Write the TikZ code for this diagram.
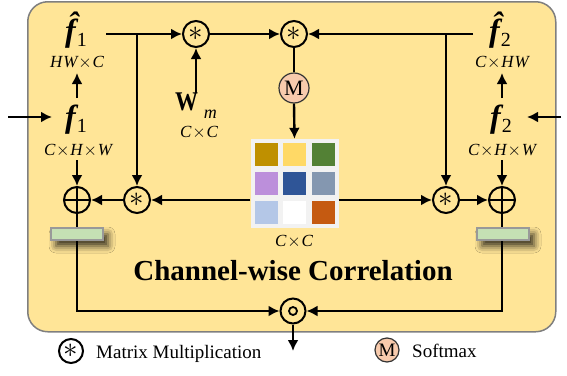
\documentclass[tikz,border=0pt]{standalone}
\usepackage{graphicx}
\usepackage{fontspec}
\setmainfont{Liberation Serif}
\usetikzlibrary{arrows.meta,shadows.blur}
\definecolor{boxfill}{HTML}{FFE597}
\definecolor{boxline}{HTML}{7F7F7F}
\definecolor{smfill}{HTML}{F8CBAD}
\definecolor{barfill}{HTML}{C5E0B4}
\definecolor{matbg}{HTML}{F2F2F2}
\definecolor{cA}{HTML}{BF9000}
\definecolor{cB}{HTML}{FFD966}
\definecolor{cC}{HTML}{538135}
\definecolor{cD}{HTML}{BC8FDB}
\definecolor{cE}{HTML}{2F5597}
\definecolor{cF}{HTML}{8497B0}
\definecolor{cG}{HTML}{B4C7E7}
\definecolor{cH}{HTML}{FFFFFF}
\definecolor{cI}{HTML}{C55A11}
\newcommand\bigf{{\fontsize{32}{32}\selectfont\bfseries\itshape f}}
\newcommand\bigfh{{\fontsize{32}{32}\selectfont\bfseries\itshape \^{f}}}
\newcommand\fsubs[1]{\raisebox{-5pt}{\kern1pt\fontsize{20}{20}\selectfont #1}}
\newcommand\tms{\kern0.8pt$\times$\kern0.8pt}
\newcommand\astsym{\scalebox{2.9}{$\ast$}}
\begin{document}
\begin{tikzpicture}[x=1pt,y=-1pt,
  conn/.style={line width=2.4pt,-{Latex[length=11pt,width=11pt]}},
  plainline/.style={line width=2.4pt},
  opnode/.style={circle,draw,line width=2pt,minimum size=26pt,inner sep=0pt,fill=boxfill},
  plusnode/.style={opnode,path picture={\draw[line width=2pt] (path picture bounding box.north) -- (path picture bounding box.south) (path picture bounding box.west) -- (path picture bounding box.east);}},
  smnode/.style={circle,draw=black!80,line width=1.2pt,fill=smfill,inner sep=0pt,minimum size=30pt,font=\fontsize{22}{22}\selectfont},
  dimlabel/.style={font=\fontsize{17}{17}\selectfont\itshape,inner sep=0pt,anchor=base},
  feat/.style={inner sep=0pt,anchor=base},
  cell/.style={minimum size=23pt,inner sep=0pt},
  barnode/.style={draw=black!40,line width=1.5pt,fill=barfill,minimum width=52pt,minimum height=12pt,inner sep=0pt,
     blur shadow={shadow xshift=5pt,shadow yshift=-6pt,shadow blur radius=7pt,shadow opacity=80}},
  legendtext/.style={font=\fontsize{19}{19}\selectfont,anchor=base west,inner sep=0pt}]
\useasboundingbox (0,0) rectangle (567,375);
% main box
\node[draw=boxline,line width=1.5pt,fill=boxfill,rounded corners=20pt,minimum width=528pt,minimum height=330pt,anchor=north west,inner sep=0pt] (box) at (27,1) {};

% features
\node[feat] (fh1) at (76,41) {\bigfh\fsubs{1}};
\node[dimlabel] (fh1d) at (77,67) {H\kern1pt W\tms C};
\node[feat] (f1) at (76,127) {\bigf\fsubs{1}};
\node[dimlabel] (f1d) at (78,155) {C\tms H\tms W};
\node[feat] (fh2) at (500,41) {\bigfh\fsubs{2}};
\node[dimlabel] (fh2d) at (502,67) {C\tms H\kern1pt W};
\node[feat] (f2) at (501,127) {\bigf\fsubs{2}};
\node[dimlabel] (f2d) at (502,155) {C\tms H\tms W};
\node[feat] (wm) at (196,110) {\scalebox{0.85}[1]{\fontsize{27}{27}\selectfont\bfseries W}\raisebox{-8pt}{\kern6pt\fontsize{18}{18}\selectfont\itshape m}};
\node[dimlabel] (wmd) at (199,137) {C\tms C};

% operators
\node[opnode] (opA) at (196,34) {\astsym};
\node[opnode] (opB) at (294,34) {\astsym};
\node[smnode] (sm) at (294,88) {M};
\node[opnode] (opC) at (137,200) {\astsym};
\node[opnode] (opD) at (446,200) {\astsym};
\node[plusnode] (plusL) at (77,200) {};
\node[plusnode] (plusR) at (502,200) {};
\node[opnode,minimum size=25pt] (had) at (293,311) {};
\node[circle,draw,line width=1.8pt,minimum size=8pt,inner sep=0pt] (hadc) at (had) {};

% correlation matrix
\node[fill=matbg,minimum width=88pt,minimum height=89pt,inner sep=0pt] (mat) at (294.5,183.5) {};
\node[cell,fill=cA] (m11) at (266.5,154.5) {};
\node[cell,fill=cB] (m12) at (294.5,154.5) {};
\node[cell,fill=cC] (m13) at (323,154.5) {};
\node[cell,fill=cD] (m21) at (266.5,183.5) {};
\node[cell,fill=cE] (m22) at (294.5,183.5) {};
\node[cell,fill=cF] (m23) at (323,183.5) {};
\node[cell,fill=cG] (m31) at (266.5,212.5) {};
\node[cell,fill=cH] (m32) at (294.5,212.5) {};
\node[cell,fill=cI] (m33) at (323,212.5) {};
\node[dimlabel] (matd) at (294,246) {C\tms C};

\node[font=\fontsize{29}{29}\selectfont\bfseries,anchor=base,inner sep=0pt] (title) at (293,280) {Channel-wise Correlation};

% coordinates
\coordinate (inL) at (8,117);
\coordinate (inLe) at (52,117);
\coordinate (inR) at (561,117);
\coordinate (inRe) at (527,117);
\coordinate (f1up) at (77,98);
\coordinate (f1upe) at (77,73);
\coordinate (f2up) at (502,98);
\coordinate (f2upe) at (502,73);
\coordinate (f1dn) at (77,160);
\coordinate (f2dn) at (502,160);
\coordinate (fh1r) at (106,34);
\coordinate (fh2l) at (473,34);
\coordinate (wmt) at (196,93);
\coordinate (cornL) at (77,311);
\coordinate (cornR) at (502,311);
\coordinate (out) at (293,351);

% connectors
\draw[conn] (inL) -- (inLe);
\draw[conn] (inR) -- (inRe);
\draw[conn] (f1up) -- (f1upe);
\draw[conn] (f2up) -- (f2upe);
\draw[conn] (f1dn) -- (plusL.north);
\draw[conn] (f2dn) -- (plusR.north);
\draw[conn] (fh1r) -- (opA.west);
\draw[conn] (opC |- fh1r) -- (opC.north);
\draw[conn] (wmt) -- (opA.south);
\draw[conn] (opA.east) -- (opB.west);
\draw[conn] (fh2l) -- (opB.east);
\draw[conn] (opD |- fh2l) -- (opD.north);
\draw[plainline] (opB.south) -- (sm.north);
\draw[conn] (sm.south) -- (mat.north);
\draw[conn] (mat.west |- opC) -- (opC.east);
\draw[conn] (opC.west) -- (plusL.east);
\draw[conn] (mat.east |- opD) -- (opD.west);
\draw[conn] (opD.east) -- (plusR.west);
\draw[conn] (plusL.south) -- (cornL) -- (had.west);
\draw[conn] (plusR.south) -- (cornR) -- (had.east);
\draw[conn] (had.south) -- (out);

% bars on top of lines
\node[barnode] (barL) at (77,234) {};
\node[barnode] (barR) at (503,234) {};

% legend
\node[opnode,fill=white,minimum size=24pt] (lgA) at (71,351) {\astsym};
\node[legendtext] (lgAt) at (96,358) {Matrix Multiplication};
\node[smnode,minimum size=24pt,font=\fontsize{19}{19}\selectfont] (lgM) at (387,350) {M};
\node[legendtext] (lgMt) at (412,357) {Softmax};
\end{tikzpicture}
\end{document}
